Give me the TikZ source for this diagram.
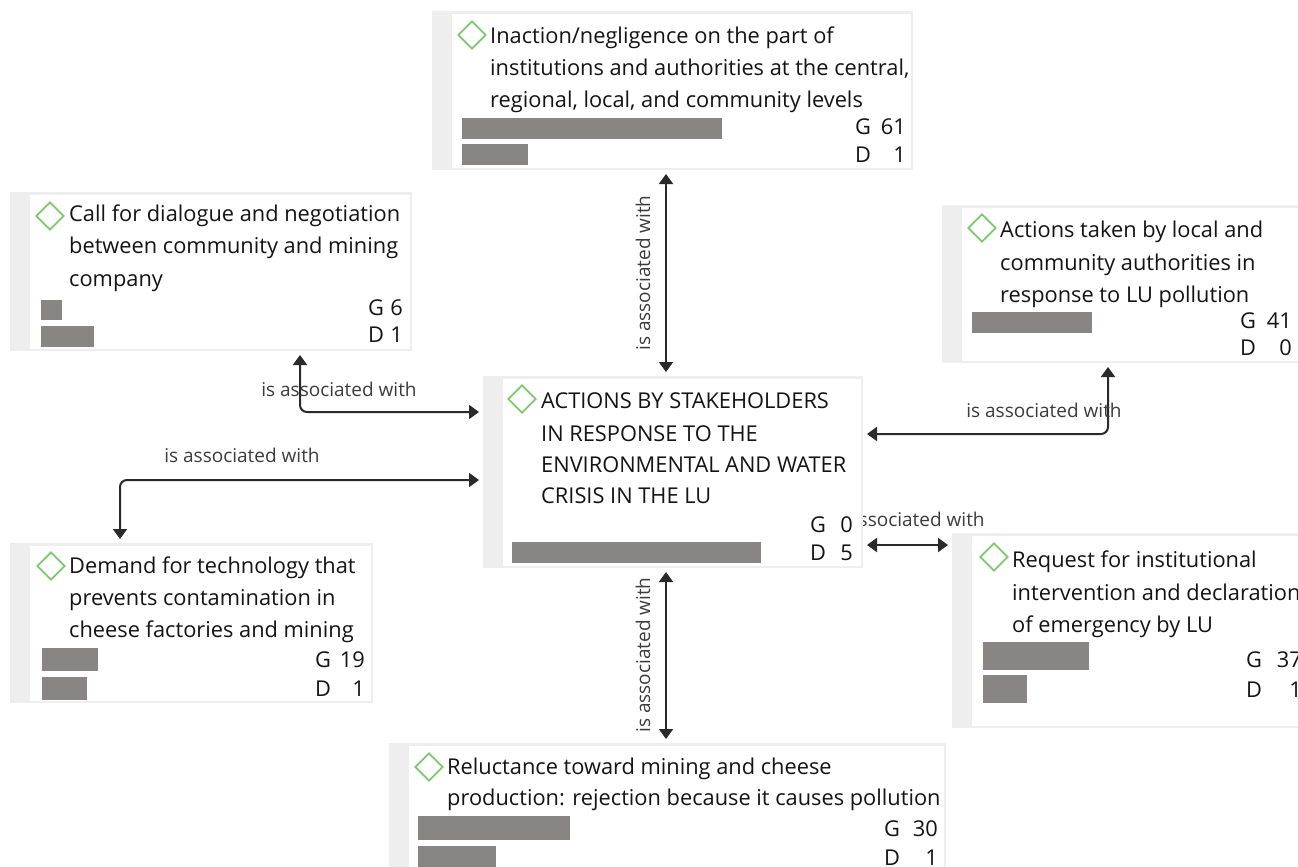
\documentclass[tikz,border=0pt]{standalone}
\usepackage{fontspec}
\setmainfont{Open Sans}
\usetikzlibrary{arrows.meta,shapes.geometric}
\definecolor{boxgray}{HTML}{EEEEEE}
\definecolor{barcol}{HTML}{8A8585}
\definecolor{diag}{HTML}{7DC86E}
\definecolor{txt}{HTML}{141414}
\definecolor{lblc}{HTML}{3C3C3C}
\definecolor{conc}{HTML}{2A2A2A}
\newcommand\ttlfnt{\fontsize{21.8}{26}\selectfont}
\newcommand\lblfnt{\fontsize{19}{23}\selectfont}
\begin{document}
\begin{tikzpicture}[x=1pt,y=-1pt,
  box/.style={fill=boxgray, anchor=north west, inner sep=0pt, outer sep=0pt,
    path picture={\fill[white] ([xshift=20pt,yshift=-3pt]path picture bounding box.north west) rectangle ([xshift=-2pt,yshift=2pt]path picture bounding box.south east);}},
  bar/.style={fill=barcol, anchor=north west, inner sep=0pt, outer sep=0pt},
  dia/.style={diamond, draw=diag, line width=1.8pt, minimum width=28pt, minimum height=28pt, inner sep=0pt},
  ttl/.style={font=\ttlfnt, text=txt, anchor=base west, inner sep=0pt},
  cl/.style={font=\ttlfnt, text=txt, anchor=base west, inner sep=0pt},
  cn/.style={font=\ttlfnt, text=txt, anchor=base east, inner sep=0pt},
  lbl/.style={font=\lblfnt, text=lblc, inner sep=0pt},
  conn/.style={draw=conc, line width=2pt, {Triangle[width=14pt,length=10pt]}-{Triangle[width=14pt,length=10pt]}, rounded corners=7pt, shorten <=4pt, shorten >=4pt}
]
\clip (0,0) rectangle (1298,867);
\useasboundingbox (0,0) rectangle (1298,867);
\fill[white] (0,0) rectangle (1298,867);

% label hidden partly behind the centre box
\node[lbl] (l6) at (907,519) {is associated with};

% boxes
\node[box, minimum width=481pt, minimum height=159pt] (topbox) at (432,11) {};
\node[box, minimum width=402pt, minimum height=159pt] (callbox) at (10,192) {};
\node[box, minimum width=370pt, minimum height=158pt] (actbox) at (942,205) {};
\node[box, minimum width=380pt, minimum height=192pt] (cbox) at (483,376) {};
\node[box, minimum width=363pt, minimum height=160pt] (dembox) at (10,543) {};
\node[box, minimum width=360pt, minimum height=195pt] (reqbox) at (952,533) {};
\node[box, minimum width=557pt, minimum height=140pt] (relbox) at (389,743) {};

% diamonds
\node[dia] (topd) at (472,35) {};
\node[dia] (calld) at (50,216) {};
\node[dia] (actd) at (982,228) {};
\node[dia] (cd) at (522,399) {};
\node[dia] (demd) at (51,566) {};
\node[dia] (reqd) at (994,557) {};
\node[dia] (reld) at (429,767) {};

% titles
\node[ttl] (t1) at (490,44) {Inaction/negligence on the part of};
\node[ttl] (t2) at (490,76) {institutions and authorities at the central,};
\node[ttl] (t3) at (490,107) {regional, local, and community levels};

\node[ttl] (c1) at (69,221) {Call for dialogue and negotiation};
\node[ttl] (c2) at (69,253) {between community and mining};
\node[ttl] (c3) at (69,286) {company};

\node[ttl] (a1) at (1000,237) {Actions taken by local and};
\node[ttl] (a2) at (1000,270) {community authorities in};
\node[ttl] (a3) at (1000,302) {response to LU pollution};

\node[ttl] (m1) at (541,408) {ACTIONS BY STAKEHOLDERS};
\node[ttl] (m2) at (541,441) {IN RESPONSE TO THE};
\node[ttl] (m3) at (541,472) {ENVIRONMENTAL AND WATER};
\node[ttl] (m4) at (541,503) {CRISIS IN THE LU};

\node[ttl] (d1) at (69,573) {Demand for technology that};
\node[ttl] (d2) at (69,605) {prevents contamination in};
\node[ttl] (d3) at (69,637) {cheese factories and mining};

\node[ttl] (r1) at (1012,567) {Request for institutional};
\node[ttl] (r2) at (1012,600) {intervention and declaration};
\node[ttl] (r3) at (1012,632) {of emergency by LU};

\node[ttl] (e1) at (447,774) {Reluctance toward mining and cheese};
\node[ttl] (e2) at (447,805) {production: rejection because it causes pollution};

% bars
\node[bar, minimum width=260pt, minimum height=21pt] (topg) at (462,118) {};
\node[bar, minimum width=66pt, minimum height=21pt] (topdb) at (462,144) {};
\node[bar, minimum width=21pt, minimum height=20pt] (callg) at (41,300) {};
\node[bar, minimum width=53pt, minimum height=21pt] (calldb) at (41,326) {};
\node[bar, minimum width=120pt, minimum height=21pt] (actg) at (972,312) {};
\node[bar, minimum width=249pt, minimum height=21pt] (cdb) at (512,542) {};
\node[bar, minimum width=56pt, minimum height=23pt] (demg) at (42,648) {};
\node[bar, minimum width=45pt, minimum height=23pt] (demdb) at (42,677) {};
\node[bar, minimum width=106pt, minimum height=28pt] (reqg) at (983,642) {};
\node[bar, minimum width=44pt, minimum height=28pt] (reqdb) at (983,675) {};
\node[bar, minimum width=152pt, minimum height=24pt] (relg) at (418,816) {};
\node[bar, minimum width=78pt, minimum height=24pt] (reldb) at (418,846) {};

% counts
\node[cl] (tgl) at (855,134) {G}; \node[cn] (tgn) at (906,134) {61};
\node[cl] (tdl) at (855,162) {D}; \node[cn] (tdn) at (906,162) {1};
\node[cl] (cgl) at (368,315) {G}; \node[cn] (cgn) at (403,315) {6};
\node[cl] (cdl) at (368,342) {D}; \node[cn] (cdn) at (403,342) {1};
\node[cl] (agl) at (1240,328) {G}; \node[cn] (agn) at (1292,328) {41};
\node[cl] (adl) at (1240,355) {D}; \node[cn] (adn) at (1292,355) {0};
\node[cl] (mgl) at (810,532) {G}; \node[cn] (mgn) at (853,532) {0};
\node[cl] (mdl) at (810,560) {D}; \node[cn] (mdn) at (853,560) {5};
\node[cl] (dgl) at (315,667) {G}; \node[cn] (dgn) at (365,667) {19};
\node[cl] (ddl) at (315,696) {D}; \node[cn] (ddn) at (365,696) {1};
\node[cl] (rgl) at (1246,667) {G}; \node[cn] (rgn) at (1302,667) {37};
\node[cl] (rdl) at (1246,697) {D}; \node[cn] (rdn) at (1302,697) {1};
\node[cl] (egl) at (884,836) {G}; \node[cn] (egn) at (938,836) {30};
\node[cl] (edl) at (884,865) {D}; \node[cn] (edn) at (938,865) {1};

% connectors
\coordinate (vx) at (666,0);
\coordinate (cb) at (300,412);
\coordinate (db) at (120,480);
\coordinate (ab) at (1108,434);
\coordinate (rb) at (0,545);
\draw[conn] (topbox.south -| vx) -- (cbox.north -| vx);
\draw[conn] (cbox.south -| vx) -- (relbox.north -| vx);
\draw[conn] (callbox.south -| cb) -- (cb) -- (cb -| cbox.west);
\draw[conn] (cbox.west |- db) -- (db) -- (db |- dembox.north);
\draw[conn] (actbox.south -| ab) -- (ab) -- (ab -| cbox.east);
\draw[conn] (cbox.east |- rb) -- (reqbox.west |- rb);

% connector labels
\node[lbl, rotate=90] (l1) at (643,273) {is associated with};
\node[lbl, rotate=90] (l2) at (643,655) {is associated with};
\node[lbl] (l3) at (339,389) {is associated with};
\node[lbl] (l4) at (242,455) {is associated with};
\node[lbl] (l5) at (1044,410) {is associated with};
\end{tikzpicture}
\end{document}
